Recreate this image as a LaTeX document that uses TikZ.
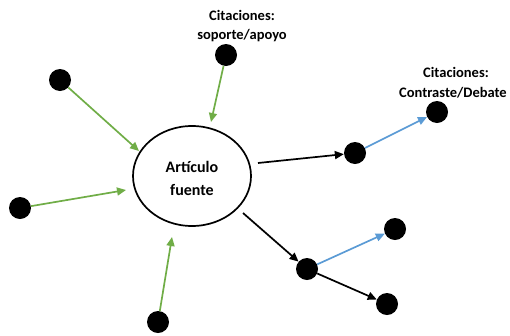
\documentclass[tikz,border=0pt]{standalone}
\usepackage{fontspec}
\setmainfont{Carlito}
\usetikzlibrary{arrows.meta,shapes.geometric}
\definecolor{citgreen}{HTML}{70AD47}
\definecolor{citblue}{HTML}{5B9BD5}
\begin{document}
\begin{tikzpicture}[x=1pt,y=-1pt,
  dot/.style={circle,fill=black,inner sep=0pt,minimum size=22pt},
  lbl/.style={font=\bfseries\fontsize{14.5}{16}\selectfont,inner sep=0pt,anchor=base},
  ctr/.style={font=\bfseries\fontsize{16}{18}\selectfont,inner sep=0pt,anchor=base},
  conn/.style={line width=1.7pt,-{Triangle[length=9pt,width=8pt]}},
  sup/.style={conn,draw=citgreen},
  deb/.style={conn,draw=citblue},
  neu/.style={conn,draw=black}]
\useasboundingbox (0,0) rectangle (510,335);
\node[draw,line width=1.7pt,ellipse,minimum width=118pt,minimum height=100pt,inner sep=0pt] (src) at (192,176) {};
\node[ctr] (t1) at (192,172) {Artículo};
\node[ctr] (t2) at (192,195) {fuente};
\node[lbl] (l1) at (242,20) {Citaciones:};
\node[lbl] (l2) at (242,39) {soporte/apoyo};
\node[lbl] (l3) at (456,77) {Citaciones:};
\node[lbl] (l4) at (453,97) {Contraste/Debate};
% dots
\node[dot] (A) at (60,80) {};
\node[dot] (B) at (226,55) {};
\node[dot] (C) at (20,208) {};
\node[dot] (D) at (158,322) {};
\node[dot] (E) at (355,153) {};
\node[dot] (F) at (437,112) {};
\node[dot] (G) at (307,269) {};
\node[dot] (H) at (395,229) {};
\node[dot] (I) at (387,304) {};
% arrow ends near the ellipse
\coordinate (tA) at (139,151);
\coordinate (tB) at (211,122);
\coordinate (tC) at (126,190);
\coordinate (tD) at (172,237);
\coordinate (sE) at (258,163);
\coordinate (sG) at (243,213);
% connectors
\draw[sup] (A) -- (tA);
\draw[sup] (B) -- (tB);
\draw[sup] (C) -- (tC);
\draw[sup] (D) -- (tD);
\draw[neu] (sE) -- (E);
\draw[neu] (sG) -- (G);
\draw[deb] (E) -- (F);
\draw[deb] (G) -- (H);
\draw[neu] (G) -- (I);
\end{tikzpicture}
\end{document}
